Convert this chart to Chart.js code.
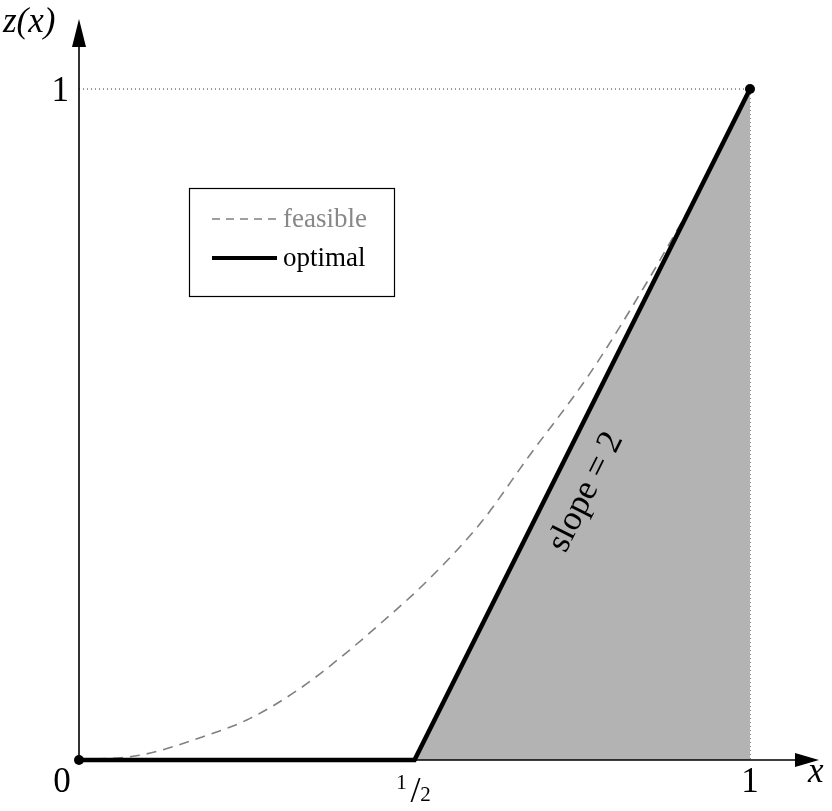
<!DOCTYPE html>
<html>
<head>
<meta charset="utf-8">
<script src="https://cdn.jsdelivr.net/npm/chart.js@4/dist/chart.umd.min.js"></script>
<style>
  html, body { margin: 0; padding: 0; background: #fff; }
  canvas { display: block; }
</style>
</head>
<body>
<canvas id="zChart" width="832" height="811"></canvas>
<script>
// values (x in [0,1], z in [0,1])
const feasibleX = [0, 0.09, 0.18, 0.255, 0.33, 0.39, 0.45, 0.52, 0.6, 0.67, 0.76, 0.85, 0.9, 0.93, 1];
const feasibleY = [0, 0.007, 0.033, 0.062, 0.107, 0.153, 0.204, 0.268, 0.355, 0.452, 0.574, 0.718, 0.805, 0.858, 1];
const optimalX = [0, 0.5, 1];
const optimalY = [0, 0, 1];
const guideX = [0, 1, 1];
const guideY = [1, 1, 0];
const xTicks = [0, 0.5, 1];
const yTicks = [1];
const legendLabels = ["feasible", "optimal"];
const slopeLabel = "slope = 2";

const toPoints = (xs, ys) => xs.map((x, i) => ({ x, y: ys[i] }));

const serif = "'Liberation Serif', 'Times New Roman', serif";

const decorations = {
    id: "decorations",
    afterDatasetsDraw(chart) {
        const ctx = chart.ctx;
        const xs = chart.scales.x;
        const ys = chart.scales.y;
        const x0 = xs.getPixelForValue(0);
        const y0 = ys.getPixelForValue(0);

        ctx.save();
        ctx.strokeStyle = "#000";
        ctx.fillStyle = "#000";
        ctx.lineWidth = 1.6;

        // axes with arrow heads
        ctx.beginPath();
        ctx.moveTo(x0, y0);
        ctx.lineTo(x0, 40);
        ctx.moveTo(x0, y0);
        ctx.lineTo(800, y0);
        ctx.stroke();

        ctx.beginPath();
        ctx.moveTo(x0, 19);
        ctx.lineTo(x0 - 7, 47);
        ctx.lineTo(x0 + 7, 47);
        ctx.closePath();
        ctx.fill();

        ctx.beginPath();
        ctx.moveTo(819, y0);
        ctx.lineTo(795, y0 - 7);
        ctx.lineTo(795, y0 + 7);
        ctx.closePath();
        ctx.fill();

        // axis labels
        ctx.font = "italic 35px " + serif;
        ctx.textAlign = "left";
        ctx.textBaseline = "alphabetic";
        ctx.fillText("z(x)", 3, 32);
        ctx.fillText("x", 808, 782);

        // tick labels
        ctx.font = "35px " + serif;
        ctx.textAlign = "center";
        xTicks.forEach(v => {
            const px = xs.getPixelForValue(v);
            if (v === 0.5) {
                ctx.font = "21px " + serif;
                ctx.fillText("1", px - 13, 789);
                ctx.fillText("2", px + 11, 801);
                ctx.font = "36px " + serif;
                ctx.fillText("/", px + 1, 802);
                ctx.font = "35px " + serif;
            } else if (v === 0) {
                ctx.fillText("0", px - 17, 792);
            } else {
                ctx.fillText("1", px, 792);
            }
        });
        yTicks.forEach(v => {
            ctx.textAlign = "right";
            ctx.fillText("1", x0 - 10, ys.getPixelForValue(v) + 12);
        });

        // slope label along the optimal line
        const ax = xs.getPixelForValue(0.5), ay = ys.getPixelForValue(0);
        const bx = xs.getPixelForValue(1), by = ys.getPixelForValue(1);
        const ang = Math.atan2(by - ay, bx - ax);
        ctx.save();
        ctx.translate(586, 492);
        ctx.rotate(ang);
        ctx.textAlign = "center";
        ctx.textBaseline = "middle";
        ctx.font = "35px " + serif;
        ctx.fillText(slopeLabel, 0, 0);
        ctx.restore();

        // legend box
        ctx.lineWidth = 1.2;
        ctx.strokeStyle = "#000";
        ctx.strokeRect(189.5, 188.5, 205, 108);

        ctx.lineWidth = 1.5;
        ctx.strokeStyle = "#808080";
        ctx.setLineDash([8, 6]);
        ctx.beginPath();
        ctx.moveTo(212, 219);
        ctx.lineTo(277, 219);
        ctx.stroke();
        ctx.setLineDash([]);

        ctx.lineWidth = 4;
        ctx.strokeStyle = "#000";
        ctx.beginPath();
        ctx.moveTo(212, 258);
        ctx.lineTo(277, 258);
        ctx.stroke();

        ctx.font = "27px " + serif;
        ctx.textAlign = "left";
        ctx.textBaseline = "alphabetic";
        ctx.fillStyle = "#888";
        ctx.fillText(legendLabels[0], 283, 227);
        ctx.fillStyle = "#000";
        ctx.fillText(legendLabels[1], 283, 266);

        ctx.restore();
    }
};

new Chart(document.getElementById("zChart").getContext("2d"), {
    type: "scatter",
    data: {
        datasets: [
            {
                label: "optimal",
                data: toPoints(optimalX, optimalY),
                showLine: true,
                borderColor: "#000",
                borderWidth: 4.5,
                backgroundColor: "#b3b3b3",
                fill: "origin",
                pointRadius: [5, 0, 5],
                pointBackgroundColor: "#000",
                pointBorderWidth: 0,
                clip: false
            },
            {
                label: "feasible",
                data: toPoints(feasibleX, feasibleY),
                showLine: true,
                borderColor: "#808080",
                borderWidth: 1.6,
                borderDash: [10, 7],
                cubicInterpolationMode: "monotone",
                pointRadius: 0,
                fill: false,
                clip: false
            },
            {
                label: "guide",
                data: toPoints(guideX, guideY),
                showLine: true,
                borderColor: "#333",
                borderWidth: 1.2,
                borderDash: [1, 3],
                pointRadius: 0,
                fill: false,
                clip: false
            }
        ]
    },
    options: {
        responsive: false,
        animation: false,
        events: [],
        layout: {
            padding: { left: 79, right: 82, top: 89, bottom: 51 }
        },
        plugins: {
            legend: { display: false },
            tooltip: { enabled: false }
        },
        scales: {
            x: { type: "linear", min: 0, max: 1, display: false },
            y: { type: "linear", min: 0, max: 1, display: false }
        }
    },
    plugins: [decorations]
});
</script>
</body>
</html>
